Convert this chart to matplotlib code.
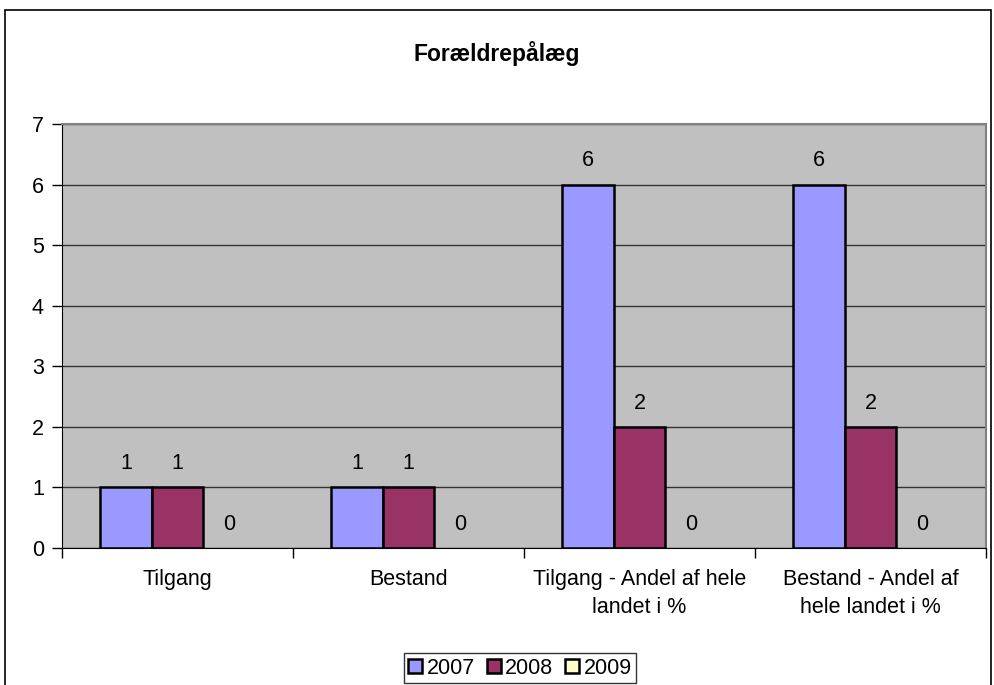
import matplotlib.pyplot as plt
from matplotlib.patches import Rectangle
import numpy as np

plt.rcParams['font.family'] = ['Liberation Sans', 'DejaVu Sans']

categories = ['Tilgang', 'Bestand', 'Tilgang - Andel af hele\nlandet i %', 'Bestand - Andel af\nhele landet i %']
years = ['2007', '2008', '2009']
v2007 = [1, 1, 6, 6]
v2008 = [1, 1, 2, 2]
v2009 = [0, 0, 0, 0]
colors = ['#9999FF', '#993366', '#FFFFCC']

fig = plt.figure(figsize=(9.95, 6.85), dpi=100)
ax = fig.add_axes([62/995, 1 - 548/685, 924/995, 424/685])
ax.set_facecolor('#C0C0C0')

# outer chart border
fig.patches.append(Rectangle((5/995, -0.05), 986/995, 1.05 - 10/685, transform=fig.transFigure,
                             fill=False, edgecolor='black', linewidth=1.2))

x = np.arange(len(categories))
w = 0.223
for i, (vals, c) in enumerate(zip([v2007, v2008, v2009], colors)):
    pos = x + (i - 1) * w
    edges = ['black' if v > 0 else 'none' for v in vals]
    ax.bar(pos, vals, w, color=c, edgecolor=edges, linewidth=1.8, label=years[i], zorder=3)
    for p, v in zip(pos, vals):
        ax.text(p, v + 0.22, str(v), ha='center', va='bottom', fontsize=15.5, zorder=4)

ax.set_xlim(-0.5, len(categories) - 0.5)
ax.set_ylim(0, 7)
ax.set_yticks(range(0, 8))
ax.yaxis.grid(True, color='#333333', linewidth=1.0, zorder=1)
ax.set_axisbelow(True)
ax.tick_params(axis='y', labelsize=15.5, length=7, width=1, direction='out', pad=6)

ax.set_xticks(np.arange(-0.5, len(categories)), minor=False)
ax.set_xticklabels([])
ax.set_xticks(x, minor=True)
ax.set_xticklabels(categories, minor=True, fontsize=15.5, linespacing=1.45)
ax.tick_params(axis='x', which='major', length=7, width=1, direction='out')
ax.tick_params(axis='x', which='minor', length=0, pad=15)

for s in ['top', 'right']:
    ax.spines[s].set_color('#808080')
    ax.spines[s].set_linewidth(1.5)
ax.spines['left'].set_color('black')
ax.spines['bottom'].set_color('black')

fig.text(497/995, 1 - 53/685, 'Forældrepålæg', ha='center', va='center', fontsize=16.5, fontweight='bold')

handles = [Rectangle((0, 0), 1, 1, facecolor=c, edgecolor='black', linewidth=1.8) for c in colors]
leg = fig.legend(handles, years, loc='center', bbox_to_anchor=(520/995, 1 - 668/685), ncol=3, fontsize=15.5,
                 frameon=True, fancybox=False, edgecolor='black', handlelength=0.65, handleheight=0.65,
                 handletextpad=0.2, columnspacing=0.55, borderpad=0.2, borderaxespad=0)
leg.get_frame().set_linewidth(1.0)

fig.savefig('out.png', dpi=100)
